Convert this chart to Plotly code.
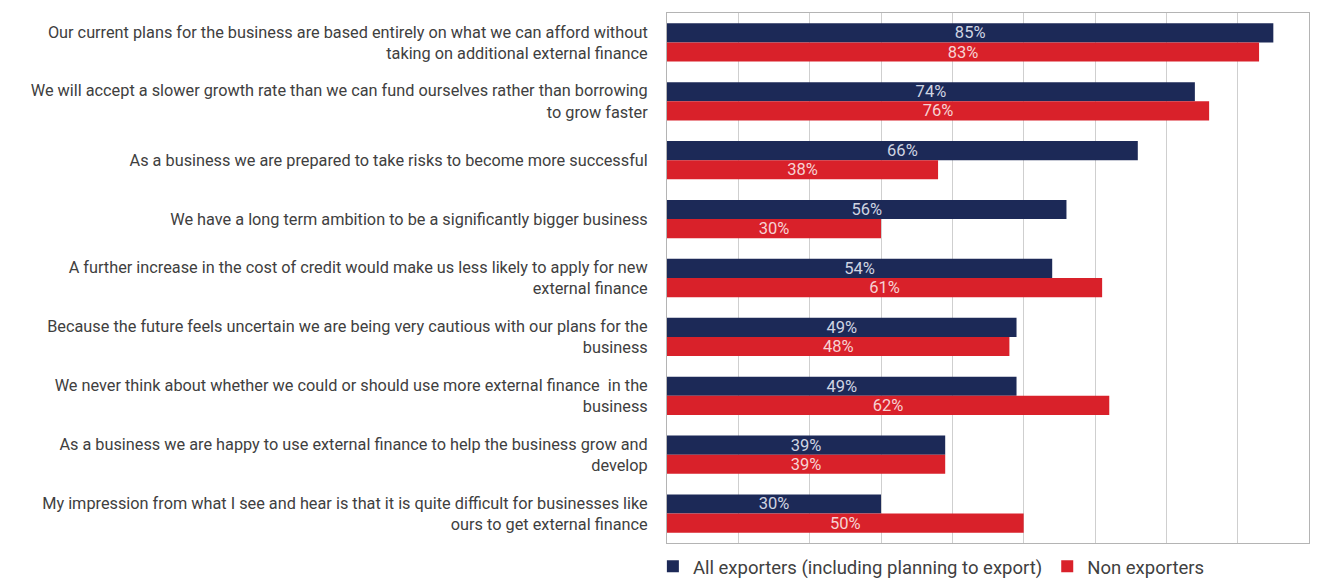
import plotly.graph_objects as go

statements = [
    "Our current plans for the business are based entirely on what we can afford without<br>taking on additional external finance",
    "We will accept a slower growth rate than we can fund ourselves rather than borrowing<br>to grow faster",
    "As a business we are prepared to take risks to become more successful",
    "We have a long term ambition to be a significantly bigger business",
    "A further increase in the cost of credit would make us less likely to apply for new<br>external finance",
    "Because the future feels uncertain we are being very cautious with our plans for the<br>business",
    "We never think about whether we could or should use more external finance  in the<br>business",
    "As a business we are happy to use external finance to help the business grow and<br>develop",
    "My impression from what I see and hear is that it is quite difficult for businesses like<br>ours to get external finance",
]

exporters = [85, 74, 66, 56, 54, 49, 49, 39, 30]
non_exporters = [83, 76, 38, 30, 61, 48, 62, 39, 50]

series_names = ["All exporters (including planning to export)", "Non exporters"]

NAVY = "#1c2957"
RED = "#d9212a"
FONT = "Roboto, sans-serif"

fig = go.Figure()
fig.add_trace(go.Bar(
    y=statements, x=exporters, orientation="h", name=series_names[0],
    marker=dict(color=NAVY, line=dict(width=0)),
    text=[f"{v}%" for v in exporters], textposition="inside",
    insidetextanchor="middle", constraintext="none",
    textfont=dict(color="#cfd4e2", size=16.5, family=FONT),
))
fig.add_trace(go.Bar(
    y=statements, x=non_exporters, orientation="h", name=series_names[1],
    marker=dict(color=RED, line=dict(width=0)),
    text=[f"{v}%" for v in non_exporters], textposition="inside",
    insidetextanchor="middle", constraintext="none",
    textfont=dict(color="#f6d2d3", size=16.5, family=FONT),
))

fig.update_layout(
    width=1326, height=580,
    margin=dict(l=667, r=17, t=13, b=37, autoexpand=False),
    barmode="group", bargap=0.35, bargroupgap=0,
    plot_bgcolor="white", paper_bgcolor="white",
    font=dict(family=FONT, color="#404040", size=16),
    showlegend=True,
    legend=dict(
        orientation="h", x=-0.022, xanchor="left", y=-0.009, yanchor="top",
        traceorder="normal", font=dict(size=18.5, color="#404040", family=FONT),
        bgcolor="rgba(0,0,0,0)",
    ),
    xaxis=dict(
        range=[0, 90], dtick=10, showticklabels=False, showgrid=True,
        gridcolor="#cfcfcf", gridwidth=1, zeroline=False,
        showline=True, linecolor="#b4b4b4", linewidth=1, mirror=True,
        fixedrange=True,
    ),
    yaxis=dict(
        autorange="reversed", showgrid=False, zeroline=False,
        showline=True, linecolor="#b4b4b4", linewidth=1, mirror=True,
        ticks="", ticklabelstandoff=15,
        tickfont=dict(size=16.3, color="#404040", family=FONT),
    ),
)

fig.write_html("out.html")
